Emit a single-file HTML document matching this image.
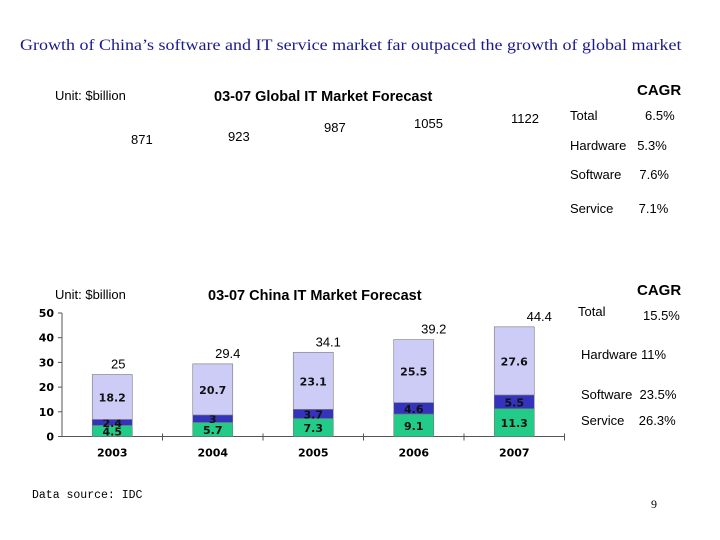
<!DOCTYPE html>
<html><head><meta charset="utf-8"><style>
body{margin:0;width:720px;height:540px;background:#fff;position:relative;overflow:hidden;font-family:"Liberation Sans",sans-serif}
.t{position:absolute;white-space:nowrap}
</style></head><body>
<div class="t" style="left:20px;top:37px;font-family:'Liberation Serif',serif;font-size:16px;color:#1a1a8c;transform:scaleX(1.125);transform-origin:left top">Growth of China’s software and IT service market far outpaced the growth of global market</div>
<div class="t" style="left:55px;top:88px;font-size:13px">Unit: $billion</div>
<div class="t" style="left:214px;top:89px;font-size:14.5px;font-weight:bold">03-07 Global IT Market Forecast</div>
<div class="t" style="left:131px;top:132px;font-size:13px">871</div>
<div class="t" style="left:228px;top:129px;font-size:13px">923</div>
<div class="t" style="left:324px;top:120px;font-size:13px">987</div>
<div class="t" style="left:414px;top:116px;font-size:13px">1055</div>
<div class="t" style="left:511px;top:111px;font-size:13px">1122</div>
<div class="t" style="left:637px;top:82px;font-size:15px;font-weight:bold">CAGR</div>
<div class="t" style="left:570px;top:108px;font-size:13px">Total</div>
<div class="t" style="left:645px;top:108px;font-size:13px">6.5%</div>
<div class="t" style="left:570px;top:138px;font-size:13px">Hardware&nbsp;&nbsp; 5.3%</div>
<div class="t" style="left:570px;top:167px;font-size:13px">Software&nbsp;&nbsp;&nbsp;&nbsp; 7.6%</div>
<div class="t" style="left:570px;top:201px;font-size:13px">Service&nbsp;&nbsp;&nbsp;&nbsp;&nbsp;&nbsp; 7.1%</div>

<div class="t" style="left:55px;top:287px;font-size:13px">Unit: $billion</div>
<div class="t" style="left:208px;top:288px;font-size:14.5px;font-weight:bold">03-07 China IT Market Forecast</div>
<div class="t" style="left:637px;top:282px;font-size:15px;font-weight:bold">CAGR</div>
<div class="t" style="left:578px;top:304px;font-size:13px">Total</div>
<div class="t" style="left:643px;top:308px;font-size:13px">15.5%</div>
<div class="t" style="left:581px;top:347px;font-size:13px">Hardware 11%</div>
<div class="t" style="left:581px;top:387px;font-size:13px">Software&nbsp; 23.5%</div>
<div class="t" style="left:581px;top:413px;font-size:13px">Service&nbsp;&nbsp;&nbsp; 26.3%</div>
<div class="t" style="left:32px;top:489px;font-family:'Liberation Mono',monospace;font-size:11.5px">Data source: IDC</div>
<div class="t" style="left:651px;top:497px;font-family:'Liberation Serif',serif;font-size:12px">9</div>

<svg id="chart" width="720" height="540" style="position:absolute;left:0;top:0"></svg>
<script>
const years=["2003","2004","2005","2006","2007"];
const service=[4.5,5.7,7.3,9.1,11.3];
const software=[2.4,3,3.7,4.6,5.5];
const hardware=[18.2,20.7,23.1,25.5,27.6];
const totals=["25","29.4","34.1","39.2","44.4"];
const yTicks=[0,10,20,30,40,50];
const totalDx=[6,15,15,20,25];
const NS="http://www.w3.org/2000/svg";
const svg=document.getElementById('chart');
const x0=62,cw=100.5,y0=436.5,ppu=2.47;
const y=v=>y0-v*ppu;
const xc=i=>x0+cw*(i+0.5);
function mk(t,a){const e=document.createElementNS(NS,t);for(const k in a)e.setAttribute(k,a[k]);svg.appendChild(e);return e;}
let ax=mk('line',{x1:x0,y1:y(50),x2:x0,y2:y0,stroke:'#555'});


let bx=mk('line',{x1:x0,y1:y0,x2:x0+cw*5,y2:y0,stroke:'#555'});


yTicks.forEach(v=>{
  mk('line',{x1:x0-4,x2:x0,y1:y(v),y2:y(v),stroke:'#555'});
  let t=mk('text',{x:x0-8,y:y(v)+4,'text-anchor':'end','font-size':11,'font-weight':'bold','font-family':'DejaVu Sans,sans-serif'});
  t.textContent=v;
  
  
});
for(let i=1;i<=5;i++)mk('line',{x1:x0+cw*i,x2:x0+cw*i,y1:y0-3,y2:y0+4,stroke:'#555'});
const segs=[[service,'#22cc88','service'],[software,'#3333bb','software'],[hardware,'#ccccf6','hardware']];
years.forEach((yr,i)=>{
  let base=0;
  segs.forEach(([arr,col,nm])=>{
    const v=arr[i];
    let r=mk('rect',{x:xc(i)-20,y:y(base+v),width:40,height:v*ppu,fill:col,stroke:'#777','stroke-width':0.6});
    
    
    let t=mk('text',{x:xc(i),y:y(base+v/2)+4.5,'text-anchor':'middle','font-size':11,'font-weight':'bold','font-family':'DejaVu Sans,sans-serif',fill:'#111'});
    t.textContent=v;
    
    
    base+=v;
  });
  let tt=mk('text',{x:xc(i)+totalDx[i],y:y(base)-6,'text-anchor':'middle','font-size':13});
  tt.textContent=totals[i];
  
  
  let xl=mk('text',{x:xc(i),y:y0+20,'text-anchor':'middle','font-size':11,'font-weight':'bold','font-family':'DejaVu Sans,sans-serif'});
  xl.textContent=yr;
  
  
});
</script>
</body></html>
